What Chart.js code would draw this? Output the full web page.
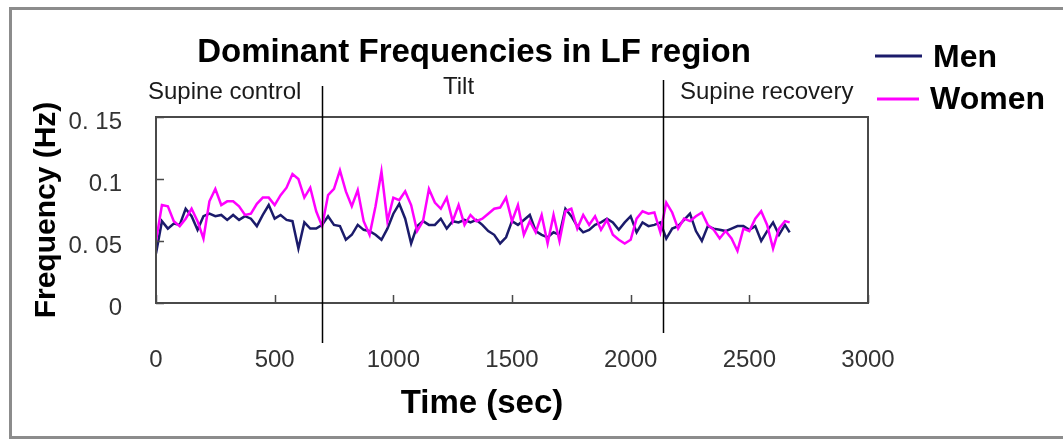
<!DOCTYPE html>
<html>
<head>
<meta charset="utf-8">
<title>Dominant Frequencies in LF region</title>
<script src="https://cdn.jsdelivr.net/npm/chart.js@4.4.1/dist/chart.umd.min.js"></script>
<style>
    html, body { margin: 0; padding: 0; background: #fff; }
    #wrap { width: 1063px; height: 444px; }
</style>
</head>
<body>
<div id="wrap"><canvas id="lfChart" width="1063" height="444"></canvas></div>
<script>
// --- Data ---
const timeSec = [
    0, 25, 50, 75, 100, 125, 150, 175, 200, 225, 250, 275, 300, 325, 350, 375, 400, 425, 450,
    475, 500, 525, 550, 575, 600, 625, 650, 675, 700, 725, 750, 775, 800, 825, 850, 875, 900,
    925, 950, 975, 1000, 1025, 1050, 1075, 1100, 1125, 1150, 1175, 1200, 1225, 1250, 1275, 1300, 1325, 1350,
    1375, 1400, 1425, 1450, 1475, 1500, 1525, 1550, 1575, 1600, 1625, 1650, 1675, 1700, 1725, 1750, 1775, 1800, 1825,
    1850, 1875, 1900, 1925, 1950, 1975, 2000, 2025, 2050, 2075, 2100, 2125, 2150, 2175, 2200, 2225, 2250, 2275, 2300,
    2325, 2350, 2375, 2400, 2425, 2450, 2475, 2500, 2525, 2550, 2575, 2600, 2625, 2650, 2670
];

const menHz = [
    0.040, 0.066, 0.060, 0.064, 0.063, 0.076, 0.070, 0.059, 0.070, 0.072, 0.070, 0.071, 0.067, 0.071, 0.067, 0.070, 0.068, 0.062, 0.071,
    0.079, 0.068, 0.071, 0.067, 0.066, 0.044, 0.065, 0.060, 0.060, 0.063, 0.070, 0.063, 0.062, 0.051, 0.055, 0.063, 0.059, 0.058,
    0.055, 0.051, 0.060, 0.072, 0.080, 0.068, 0.048, 0.062, 0.066, 0.063, 0.063, 0.068, 0.060, 0.066, 0.065, 0.067, 0.065, 0.067,
    0.063, 0.058, 0.055, 0.048, 0.053, 0.066, 0.063, 0.067, 0.071, 0.058, 0.055, 0.053, 0.057, 0.055, 0.076, 0.070, 0.062, 0.057, 0.059,
    0.063, 0.065, 0.068, 0.065, 0.059, 0.065, 0.070, 0.057, 0.065, 0.062, 0.063, 0.065, 0.052, 0.060, 0.062, 0.067, 0.072, 0.058, 0.050,
    0.062, 0.060, 0.059, 0.058, 0.060, 0.062, 0.062, 0.059, 0.062, 0.050, 0.058, 0.065, 0.055, 0.063, 0.057
];

const womenHz = [
    0.050, 0.079, 0.078, 0.066, 0.062, 0.068, 0.076, 0.066, 0.052, 0.082, 0.092, 0.079, 0.082, 0.082, 0.078, 0.071, 0.072, 0.080, 0.085,
    0.085, 0.079, 0.087, 0.093, 0.104, 0.100, 0.085, 0.093, 0.074, 0.062, 0.087, 0.092, 0.107, 0.090, 0.078, 0.091, 0.066, 0.055,
    0.078, 0.106, 0.066, 0.085, 0.083, 0.090, 0.079, 0.058, 0.066, 0.092, 0.081, 0.076, 0.085, 0.066, 0.079, 0.063, 0.071, 0.066,
    0.068, 0.072, 0.076, 0.077, 0.085, 0.066, 0.079, 0.055, 0.066, 0.057, 0.071, 0.048, 0.071, 0.050, 0.074, 0.076, 0.060, 0.071, 0.063,
    0.070, 0.059, 0.067, 0.055, 0.051, 0.048, 0.051, 0.068, 0.074, 0.072, 0.073, 0.057, 0.081, 0.073, 0.060, 0.068, 0.066, 0.070, 0.073,
    0.063, 0.059, 0.052, 0.058, 0.052, 0.042, 0.060, 0.058, 0.068, 0.074, 0.063, 0.044, 0.060, 0.066, 0.065
];

const yTickLabels = { 0: '0', 0.05: '0. 05', 0.1: '0.1', 0.15: '0. 15' };
const phaseBounds = [700, 2135];            // sec, the two vertical markers
const phaseLabels = ['Supine control', 'Tilt', 'Supine recovery'];
const seriesNames = ['Men', 'Women'];
const seriesColors = ['#1b1b6b', '#ff00ff'];

const FONT = '"Liberation Sans", Arial, sans-serif';

// --- Extra drawing: frame, plot box, inward ticks, phase markers, title, legend ---
const decorations = {
    id: 'decorations',
    afterDatasetsDraw(chart) {
        const { ctx, chartArea: a, scales: { x, y } } = chart;
        ctx.save();

        // plot box
        ctx.strokeStyle = '#4a4a4a';
        ctx.lineWidth = 2;
        ctx.strokeRect(a.left, a.top, a.right - a.left, a.bottom - a.top);

        // inward tick marks
        ctx.lineWidth = 1.5;
        ctx.beginPath();
        x.ticks.forEach(t => {
            const px = Math.round(x.getPixelForValue(t.value)) + 0.5;
            ctx.moveTo(px, a.bottom);
            ctx.lineTo(px, a.bottom - 8);
        });
        y.ticks.forEach(t => {
            const py = Math.round(y.getPixelForValue(t.value)) + 0.5;
            ctx.moveTo(a.left, py);
            ctx.lineTo(a.left + 8, py);
        });
        ctx.stroke();

        // phase markers
        ctx.strokeStyle = '#000';
        ctx.lineWidth = 1.5;
        const spans = [[86, 343], [80, 333]];
        phaseBounds.forEach((sec, i) => {
            const px = Math.round(x.getPixelForValue(sec)) + 0.5;
            ctx.beginPath();
            ctx.moveTo(px, spans[i][0]);
            ctx.lineTo(px, spans[i][1]);
            ctx.stroke();
        });
        ctx.restore();
    },
    afterDraw(chart) {
        const { ctx } = chart;
        ctx.save();

        // outer frame
        ctx.strokeStyle = '#8c8c8c';
        ctx.lineWidth = 3;
        ctx.strokeRect(10.5, 8.5, 1070, 429);

        // phase labels
        ctx.fillStyle = '#1a1a1a';
        ctx.font = `24px ${FONT}`;
        ctx.textBaseline = 'middle';
        ctx.textAlign = 'left';
        ctx.fillText(phaseLabels[0], 148, 92);
        ctx.fillText(phaseLabels[1], 443, 87);
        ctx.fillText(phaseLabels[2], 680, 92);

        // chart title
        ctx.fillStyle = '#000';
        ctx.font = `bold 33px ${FONT}`;
        ctx.textAlign = 'center';
        ctx.fillText('Dominant Frequencies in LF region', 474, 53);

        // x axis title
        ctx.fillText('Time (sec)', 482, 404);

        // legend
        const rows = [
            { line: [875, 922, 56], text: [933, 58] },
            { line: [877, 919, 99], text: [930, 100] }
        ];
        ctx.font = `bold 32px ${FONT}`;
        ctx.textAlign = 'left';
        rows.forEach((r, i) => {
            ctx.strokeStyle = seriesColors[i];
            ctx.lineWidth = 3;
            ctx.beginPath();
            ctx.moveTo(r.line[0], r.line[2]);
            ctx.lineTo(r.line[1], r.line[2]);
            ctx.stroke();
            ctx.fillStyle = '#000';
            ctx.fillText(seriesNames[i], r.text[0], r.text[1]);
        });
        ctx.restore();
    }
};

const toPoints = vals => vals.map((v, i) => ({ x: timeSec[i], y: v }));

const ctx = document.getElementById('lfChart').getContext('2d');

new Chart(ctx, {
    type: 'line',
    data: {
        datasets: [
            {
                label: seriesNames[0],
                data: toPoints(menHz),
                borderColor: seriesColors[0],
                borderWidth: 2.5,
                pointRadius: 0,
                tension: 0,
                order: 1
            },
            {
                label: seriesNames[1],
                data: toPoints(womenHz),
                borderColor: seriesColors[1],
                borderWidth: 2.5,
                pointRadius: 0,
                tension: 0,
                order: 0
            }
        ]
    },
    options: {
        responsive: false,
        animation: false,
        layout: {
            padding: { top: 117, right: 195, bottom: 0, left: 0 }
        },
        plugins: {
            legend: { display: false },
            title: { display: false },
            tooltip: { enabled: false }
        },
        scales: {
            x: {
                type: 'linear',
                min: 0,
                max: 3000,
                grid: { display: false },
                border: { display: false },
                ticks: {
                    stepSize: 500,
                    padding: 35,
                    maxRotation: 0,
                    color: '#333',
                    font: { family: FONT, size: 24 },
                    callback: v => String(v)
                },
                afterFit(scale) { scale.height = 141; }
            },
            y: {
                min: 0,
                max: 0.15,
                grid: { display: false },
                border: { display: false },
                ticks: {
                    stepSize: 0.05,
                    padding: 26,
                    labelOffset: 5,
                    color: '#333',
                    font: { family: FONT, size: 24 },
                    callback: v => yTickLabels[Math.round(v * 100) / 100]
                },
                title: {
                    display: true,
                    text: 'Frequency (Hz)',
                    color: '#000',
                    padding: { top: 29, bottom: 0 },
                    font: { family: FONT, size: 30, weight: 'bold' }
                },
                afterFit(scale) { scale.width = 156; }
            }
        }
    },
    plugins: [decorations]
});
</script>
</body>
</html>
